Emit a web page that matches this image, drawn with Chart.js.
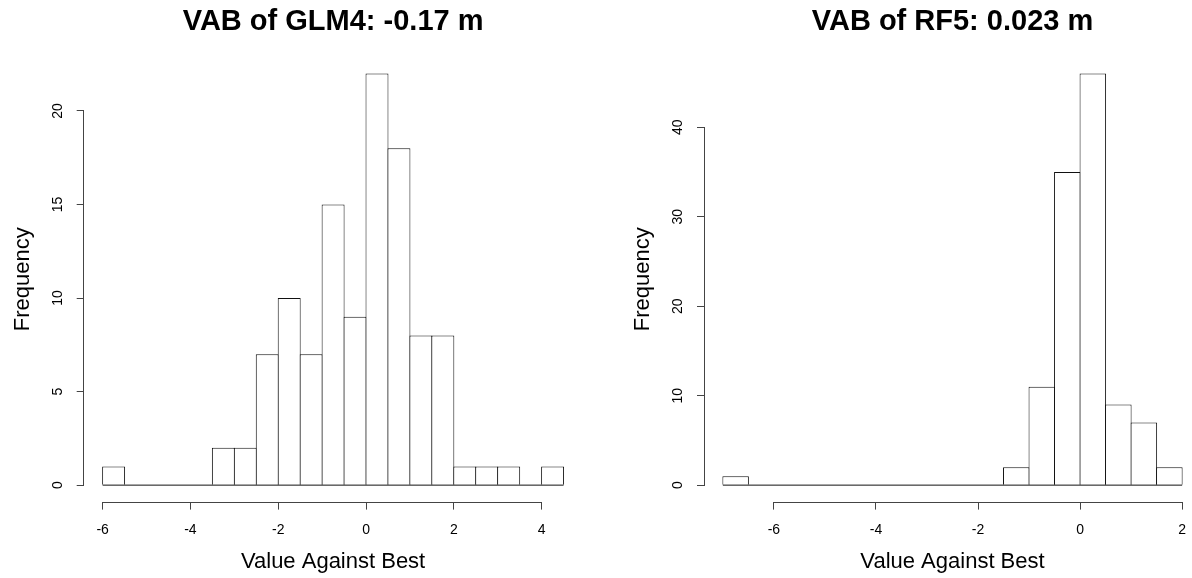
<!DOCTYPE html>
<html>
<head>
<meta charset="utf-8">
<title>VAB histograms</title>
<script src="https://cdn.jsdelivr.net/npm/chart.js@4"></script>
<style>
  html, body { margin: 0; padding: 0; background: #fff; overflow: hidden; }
  #wrap { position: relative; width: 1192px; height: 578px; }
  .panel { position: absolute; top: 0; }
</style>
</head>
<body>
<div id="wrap">
  <canvas id="glm" class="panel" width="596" height="578" style="left:0"></canvas>
  <canvas id="rf" class="panel" width="605" height="578" style="left:596px"></canvas>
</div>
<script>
// left panel: GLM4
const glmTitle  = "VAB of GLM4: -0.17 m";
const glmBreaks = [-6, -5.5, -5, -4.5, -4, -3.5, -3, -2.5, -2, -1.5, -1, -0.5, 0, 0.5, 1, 1.5, 2, 2.5, 3, 3.5, 4, 4.5];
const glmCounts = [1, 0, 0, 0, 0, 2, 2, 7, 10, 7, 15, 9, 22, 18, 8, 8, 1, 1, 1, 0, 1];
const glmXTicks = [-6, -4, -2, 0, 2, 4];
const glmYTicks = [0, 5, 10, 15, 20];

// right panel: RF5
const rfTitle  = "VAB of RF5: 0.023 m";
const rfBreaks = [-7, -6.5, -6, -5.5, -5, -4.5, -4, -3.5, -3, -2.5, -2, -1.5, -1, -0.5, 0, 0.5, 1, 1.5, 2];
const rfCounts = [1, 0, 0, 0, 0, 0, 0, 0, 0, 0, 0, 2, 11, 35, 46, 9, 7, 2];
const rfXTicks = [-6, -4, -2, 0, 2];
const rfYTicks = [0, 10, 20, 30, 40];

const xLabel = "Value Against Best";
const yLabel = "Frequency";

const FONT = "'Liberation Sans', Arial, sans-serif";
const AXIS = "#444";
const BAR_LINE = "#111";

// R-style axes: line only spans first..last tick, y labels rotated
const rAxes = {
  id: "rAxes",
  afterDraw(chart) {
    const ctx = chart.ctx;
    const xs = chart.scales.x, ys = chart.scales.y;
    const xt = xs.ticks.map(t => t.value);
    const yt = ys.ticks.map(t => t.value);
    ctx.save();
    ctx.strokeStyle = AXIS;
    ctx.lineWidth = 1;
    const yb = Math.round(chart.chartArea.bottom) + 0.5;
    const xl = Math.round(chart.chartArea.left) - 0.5;
    ctx.beginPath();
    ctx.moveTo(xs.getPixelForValue(xt[0]), yb);
    ctx.lineTo(xs.getPixelForValue(xt[xt.length - 1]), yb);
    ctx.moveTo(xl, ys.getPixelForValue(yt[0]));
    ctx.lineTo(xl, ys.getPixelForValue(yt[yt.length - 1]));
    ctx.stroke();

    ctx.fillStyle = "#000";
    ctx.font = "14px " + FONT;
    ctx.textAlign = "center";
    ctx.textBaseline = "middle";
    yt.forEach(v => {
      ctx.save();
      ctx.translate(ys.right - 26, ys.getPixelForValue(v));
      ctx.rotate(-Math.PI / 2);
      ctx.fillText(String(v), 0, 0);
      ctx.restore();
    });
    ctx.restore();
  }
};

function makeHist(id, title, breaks, counts, xTicks, yTicks, lay) {
  const bins = counts.map((c, i) => ({ x: (breaks[i] + breaks[i + 1]) / 2, y: c }));
  const lo = breaks[0], hi = breaks[breaks.length - 1];
  const top = Math.max(...counts);
  const xPad = (hi - lo) * 0.04, yPad = top * 0.04;

  const chart = new Chart(document.getElementById(id), {
    type: "bar",
    data: {
      datasets: [
        {
          data: bins,
          backgroundColor: "#fff",
          borderColor: BAR_LINE,
          borderWidth: 1,
          borderSkipped: "start",
          barPercentage: 1,
          categoryPercentage: 1,
          order: 1
        },
        {
          // baseline along all bins (empty bins show as a flat line)
          type: "line",
          data: [{ x: lo, y: 0 }, { x: hi, y: 0 }],
          borderColor: BAR_LINE,
          borderWidth: 1,
          pointRadius: 0,
          order: 0
        }
      ]
    },
    options: {
      responsive: false,
      animation: false,
      layout: { padding: { left: 0, right: lay.padRight, top: 0, bottom: 0 } },
      plugins: {
        legend: { display: false },
        tooltip: { enabled: false },
        title: {
          display: true,
          text: title,
          fullSize: false,
          color: "#000",
          font: { size: 29, weight: "bold", family: FONT },
          padding: { top: 4.6, bottom: 17.6 }
        }
      },
      scales: {
        x: {
          type: "linear",
          min: lo - xPad,
          max: hi + xPad,
          offset: false,
          afterBuildTicks: s => { s.ticks = xTicks.map(v => ({ value: v })); },
          grid: { drawOnChartArea: false, tickLength: 8, color: AXIS, offset: false },
          border: { display: false },
          ticks: {
            color: "#000", font: { size: 14, family: FONT },
            padding: 12, maxRotation: 0, autoSkip: false,
            callback: v => String(v)
          },
          title: {
            display: true, text: xLabel, color: "#000",
            font: { size: 22, family: FONT },
            padding: { top: -1.6, bottom: 2.8 }
          }
        },
        y: {
          type: "linear",
          min: -yPad,
          max: top + yPad,
          afterBuildTicks: s => { s.ticks = yTicks.map(v => ({ value: v })); },
          grid: { drawOnChartArea: false, tickLength: 7.5, color: AXIS },
          border: { display: false },
          ticks: { display: false },
          title: {
            display: true, text: yLabel, color: "#000",
            font: { size: 22, family: FONT },
            padding: lay.yTitlePad
          }
        }
      }
    },
    plugins: [rAxes]
  });

  // overlap neighbouring bars by 1px so shared edges are a single line
  const xs = chart.scales.x;
  const px = xs.getPixelForValue(breaks[1]) - xs.getPixelForValue(breaks[0]);
  chart.data.datasets[0].barPercentage = (px + 1) / px;
  chart.update("none");
  return chart;
}

makeHist("glm", glmTitle, glmBreaks, glmCounts, glmXTicks, glmYTicks,
  { padRight: 14, yTitlePad: { top: 9.3, bottom: 41 } });
makeHist("rf", rfTitle, rfBreaks, rfCounts, rfXTicks, rfYTicks,
  { padRight: 0, yTitlePad: { top: 33.3, bottom: 41.3 } });
</script>
</body>
</html>
